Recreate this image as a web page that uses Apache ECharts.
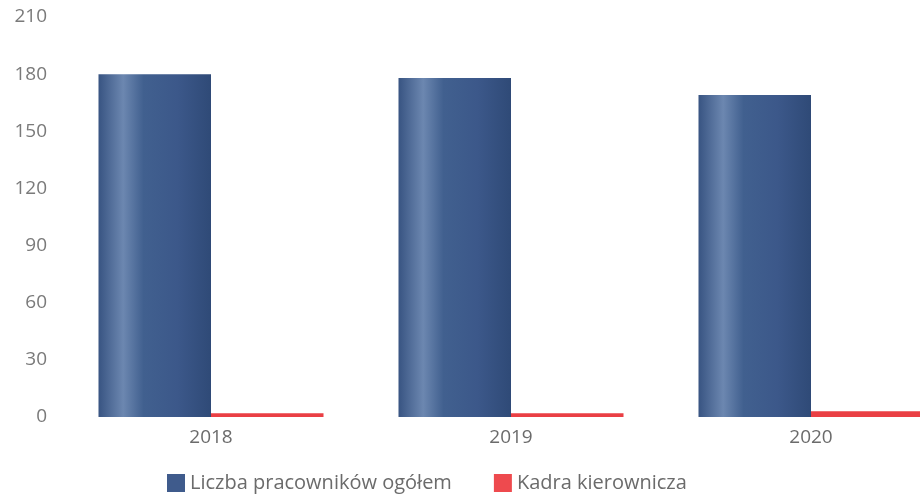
<!DOCTYPE html>
<html><head><meta charset="utf-8">
<script src="https://cdn.jsdelivr.net/npm/echarts@6/dist/echarts.min.js"></script>
<style>html,body{margin:0;padding:0;background:#fff}#c{width:920px;height:499px}</style>
</head><body><div id="c"></div>
<script>
const categories = ['2018', '2019', '2020'];
const totalEmployees = [180, 178, 169];
const management = [2, 2, 3];
const seriesNames = ['Liczba pracowników ogółem', 'Kadra kierownicza'];

const chart = echarts.init(document.getElementById('c'));
const blue = new echarts.graphic.LinearGradient(0, 0, 1, 0, [
  {offset: 0, color: '#385482'},
  {offset: 0.22, color: '#6c87b0'},
  {offset: 0.4, color: '#41608f'},
  {offset: 0.7, color: '#3c588a'},
  {offset: 1, color: '#2f4a77'}
]);
chart.setOption({
  animation: false,
  textStyle: {fontFamily: 'Open Sans'},
  grid: {left: 61, width: 900, top: 17, bottom: 82, containLabel: false, outerBoundsMode: 'none'},
  legend: {
    bottom: 1, left: 162,
    icon: 'rect',
    itemWidth: 18, itemHeight: 18, itemGap: 42, itemNodeGap: 6,
    textStyle: {color: '#6b6b6b', fontSize: 20, fontFamily: 'Open Sans'},
    data: [{name: seriesNames[0], itemStyle: {color: '#3f5b8c'}}, {name: seriesNames[1], itemStyle: {color: '#ee4a4e'}}]
  },
  xAxis: {
    type: 'category', data: categories,
    axisLine: {show: false}, axisTick: {show: false},
    axisLabel: {color: '#6b6b6b', fontSize: 19, margin: 11}
  },
  yAxis: {
    type: 'value', min: 0, max: 210, interval: 30,
    axisLine: {show: false}, axisTick: {show: false},
    splitLine: {show: false},
    axisLabel: {color: '#7a7a7a', fontSize: 19, margin: 14}
  },
  series: [
    {name: seriesNames[0], type: 'bar', data: totalEmployees, barGap: '0%', barCategoryGap: '25%', itemStyle: {color: blue}},
    {name: seriesNames[1], type: 'bar', data: management, itemStyle: {color: '#ea3f44'}}
  ]
});
</script></body></html>
